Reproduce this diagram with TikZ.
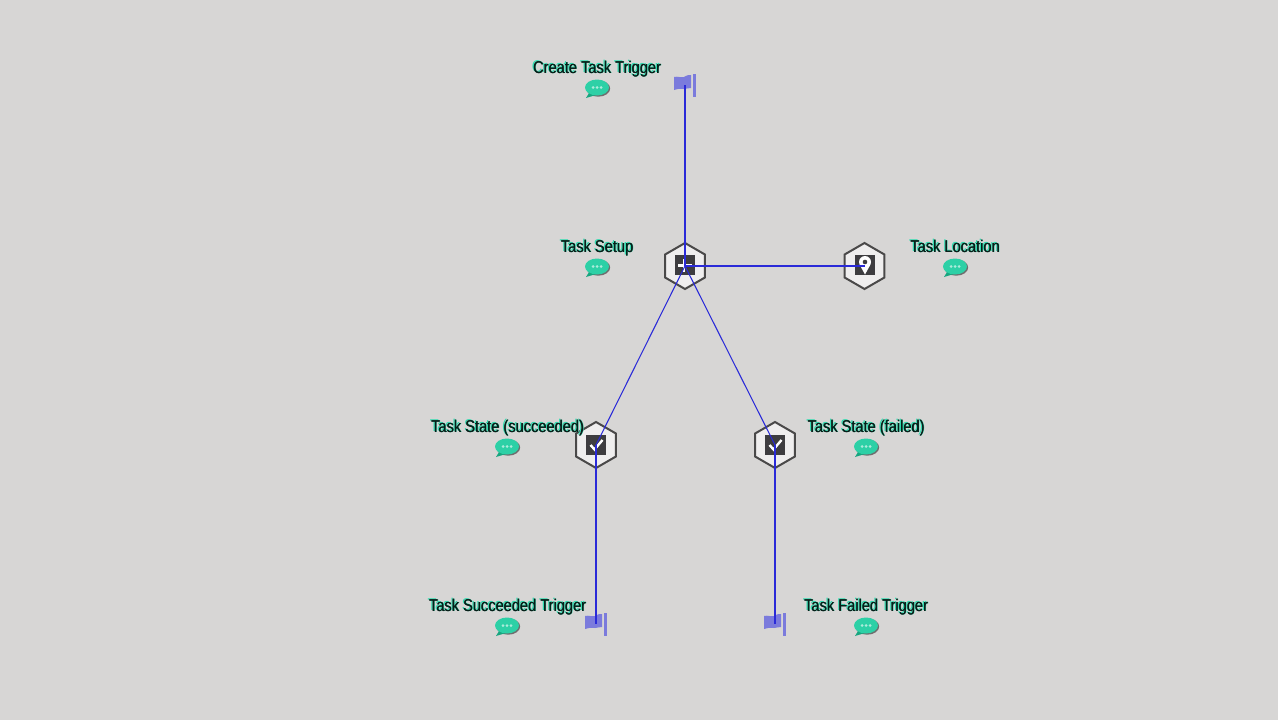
\documentclass[tikz,border=0pt]{standalone}
\usepackage{fontspec}
\setmainfont[FakeStretch=0.86]{Liberation Sans}
\usetikzlibrary{shapes.geometric}
\definecolor{bgc}{HTML}{D7D6D5}
\definecolor{hexline}{HTML}{4A4949}
\definecolor{hexfill}{HTML}{EFEEEE}
\definecolor{iconbox}{HTML}{3E3D40}
\definecolor{conn}{HTML}{2A2AD8}
\definecolor{flagc}{HTML}{7B7BDC}
\definecolor{teal1}{HTML}{2DD0A6}
\definecolor{teal2}{HTML}{17A57F}
\definecolor{glow}{HTML}{2FDCB0}
\newcommand{\glowtext}[1]{\leavevmode\rlap{\kern-1.2pt\raisebox{0.7pt}{\color{glow}#1}}\rlap{\kern0.8pt\raisebox{-0.7pt}{\color{glow!80!bgc}#1}}\rlap{\kern0.3pt\color{black!85!teal1}#1}{\color{black!85!teal1}#1}}
\tikzset{
  hexnode/.style={regular polygon,regular polygon sides=6,shape border rotate=30,draw=hexline,fill=hexfill,line width=2pt,minimum size=46pt,inner sep=0pt},
  connector/.style={draw=conn,line width=1.05pt},
  labeltext/.style={inner sep=0pt,anchor=base,font=\fontsize{17}{17}\selectfont},
  iconsq/.style={fill=iconbox,minimum size=20pt,inner sep=0pt,draw=none},
  iconmark/.style={draw=white,line width=2.4pt},
  flagbody/.pic={
    \fill[flagc] (-11,-8) .. controls (-7,-9) and (-4,-7) .. (-1,-8) .. controls (2,-10) and (4,-10) .. (6,-10) -- (6,3) .. controls (3,3) and (1,4) .. (-1,4) .. controls (-4,3) and (-7,4) .. (-11,5) -- cycle;
    \fill[flagc] (7.5,-11) rectangle (10.5,12);
  },
  bubble/.pic={
    \fill[black!70,opacity=.75] (1.2,1) ellipse (12 and 8.2);
    \fill[teal2] (-7,4) -- (-11,10.5) -- (-1,7.5) -- cycle;
    \fill[teal1] (0,0) ellipse (12 and 8);
    \foreach \dx in {-4,0,4} \fill[white!60!teal1] (\dx,0) circle (1.5);
  }
}
\begin{document}
\begin{tikzpicture}[x=1pt,y=-1pt]
\useasboundingbox[fill=bgc] (0,0) rectangle (1278,720);
% hexagons
\node[hexnode] (setup) at (685,266) {};
\node[hexnode] (location) at (864.5,266) {};
\node[hexnode] (succ) at (596,445) {};
\node[hexnode] (fail) at (775,445) {};
% icons
\node[iconsq] (setupicon) at (685,265) {};
\draw[iconmark] (678,265.5) -- (692,265.5) (684,259) -- (684,272);
\node[iconsq] (locationicon) at (865,265) {};
\fill[white] (865,274.5) -- (859.8,265) -- (870.2,265) -- cycle;
\fill[white] (865,262) circle (6);
\fill[iconbox] (865,262) circle (2.3);
\node[iconsq] (succicon) at (596,445) {};
\draw[iconmark] (590.5,445) -- (594.5,449.5) -- (602.5,440);
\node[iconsq] (failicon) at (775,445) {};
\draw[iconmark] (769.5,445) -- (773.5,449.5) -- (781.5,440);
% flags
\coordinate (ftop) at (685,85);
\coordinate (fsucc) at (596,624);
\coordinate (ffail) at (775,624);
\pic at (685,85) {flagbody};
\pic at (596,624) {flagbody};
\pic at (775,624) {flagbody};
% connectors
\draw[connector] (ftop) -- (setup.center);
\draw[connector] (setup.center) -- (location.center);
\draw[connector] (setup.center) -- (succ.center);
\draw[connector] (setup.center) -- (fail.center);
\draw[connector] (succ.center) -- (fsucc);
\draw[connector] (fail.center) -- (ffail);
% labels
\node[labeltext] (l1) at (597,73) {\glowtext{Create Task Trigger}};
\node[labeltext] (l2) at (597,252) {\glowtext{Task Setup}};
\node[labeltext] (l3) at (955,252) {\glowtext{Task Location}};
\node[labeltext] (l4) at (507.5,432) {\glowtext{Task State (succeeded)}};
\node[labeltext] (l5) at (866,432) {\glowtext{Task State (failed)}};
\node[labeltext] (l6) at (507.5,611) {\glowtext{Task Succeeded Trigger}};
\node[labeltext] (l7) at (866,611) {\glowtext{Task Failed Trigger}};
% bubbles
\pic at (597,87.5) {bubble};
\pic at (597,266.5) {bubble};
\pic at (955,266.5) {bubble};
\pic at (507,446.5) {bubble};
\pic at (866,446.5) {bubble};
\pic at (507,625.5) {bubble};
\pic at (866,625.5) {bubble};
\end{tikzpicture}
\end{document}
